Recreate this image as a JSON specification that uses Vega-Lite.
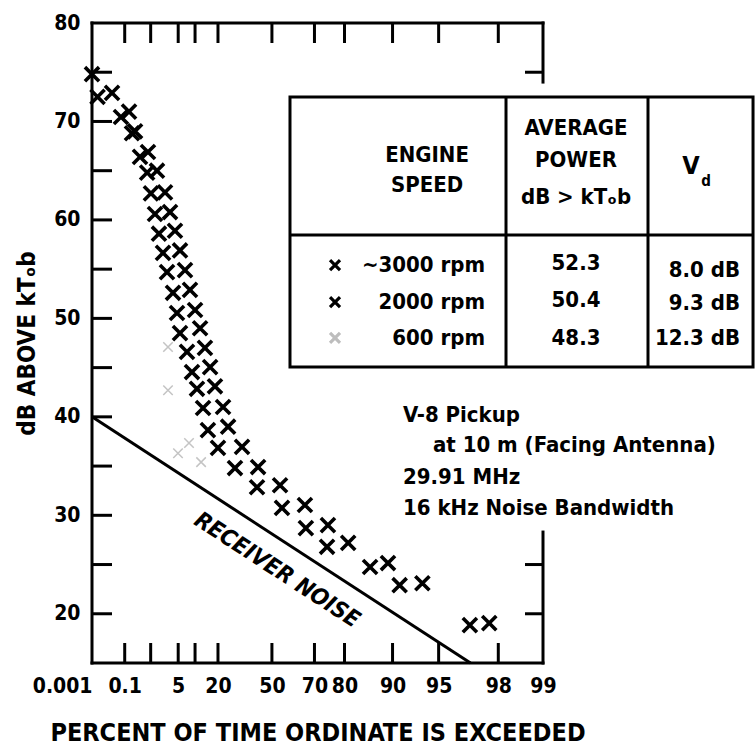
{
  "$schema": "https://vega.github.io/schema/vega-lite/v6.json",
  "width": 451,
  "height": 640,
  "autosize": {"type": "none"},
  "padding": {"left": 92, "top": 23, "right": 213, "bottom": 85},
  "background": "white",
  "config": {
    "view": {"stroke": null},
    "axis": {
      "grid": false,
      "domain": false,
      "ticks": false,
      "labelColor": "black",
      "titleColor": "black",
      "labelFont": "DejaVu Sans Condensed, DejaVu Sans, sans-serif",
      "titleFont": "DejaVu Sans Condensed, DejaVu Sans, sans-serif",
      "labelFontWeight": "bold",
      "titleFontWeight": "bold"
    },
    "text": {"font": "DejaVu Sans Condensed, DejaVu Sans, sans-serif", "fontWeight": "bold", "color": "black"}
  },
  "data": {
    "values": [
      {"kind": "pt", "series": "3000", "pct": 0.001, "db": 74.8},
      {"kind": "pt", "series": "3000", "pct": 0.022, "db": 72.9},
      {"kind": "pt", "series": "3000", "pct": 0.157, "db": 71.0},
      {"kind": "pt", "series": "3000", "pct": 0.28, "db": 69.0},
      {"kind": "pt", "series": "3000", "pct": 0.82, "db": 66.9},
      {"kind": "pt", "series": "3000", "pct": 1.54, "db": 65.0},
      {"kind": "pt", "series": "3000", "pct": 2.52, "db": 62.8},
      {"kind": "pt", "series": "3000", "pct": 3.32, "db": 60.8},
      {"kind": "pt", "series": "3000", "pct": 4.28, "db": 58.9},
      {"kind": "pt", "series": "3000", "pct": 5.43, "db": 56.9},
      {"kind": "pt", "series": "3000", "pct": 6.76, "db": 54.9},
      {"kind": "pt", "series": "3000", "pct": 8.27, "db": 52.9},
      {"kind": "pt", "series": "3000", "pct": 10.0, "db": 50.85},
      {"kind": "pt", "series": "3000", "pct": 11.9, "db": 49.0},
      {"kind": "pt", "series": "3000", "pct": 13.9, "db": 47.0},
      {"kind": "pt", "series": "3000", "pct": 16.2, "db": 45.05},
      {"kind": "pt", "series": "3000", "pct": 18.5, "db": 43.1},
      {"kind": "pt", "series": "3000", "pct": 22.6, "db": 41.0},
      {"kind": "pt", "series": "3000", "pct": 25.3, "db": 39.0},
      {"kind": "pt", "series": "3000", "pct": 33.1, "db": 36.95},
      {"kind": "pt", "series": "3000", "pct": 42.3, "db": 34.9},
      {"kind": "pt", "series": "3000", "pct": 54.3, "db": 33.05},
      {"kind": "pt", "series": "3000", "pct": 66.1, "db": 31.05},
      {"kind": "pt", "series": "3000", "pct": 74.9, "db": 29.0},
      {"kind": "pt", "series": "3000", "pct": 81.0, "db": 27.2},
      {"kind": "pt", "series": "3000", "pct": 89.3, "db": 25.15},
      {"kind": "pt", "series": "3000", "pct": 93.6, "db": 23.1},
      {"kind": "pt", "series": "3000", "pct": 97.7, "db": 19.05},
      {"kind": "pt", "series": "2000", "pct": 0.0026, "db": 72.5},
      {"kind": "pt", "series": "2000", "pct": 0.066, "db": 70.45},
      {"kind": "pt", "series": "2000", "pct": 0.21, "db": 68.8},
      {"kind": "pt", "series": "2000", "pct": 0.434, "db": 66.4},
      {"kind": "pt", "series": "2000", "pct": 0.77, "db": 64.8},
      {"kind": "pt", "series": "2000", "pct": 1.02, "db": 62.7},
      {"kind": "pt", "series": "2000", "pct": 1.35, "db": 60.6},
      {"kind": "pt", "series": "2000", "pct": 1.75, "db": 58.6},
      {"kind": "pt", "series": "2000", "pct": 2.24, "db": 56.65},
      {"kind": "pt", "series": "2000", "pct": 2.82, "db": 54.7},
      {"kind": "pt", "series": "2000", "pct": 3.88, "db": 52.6},
      {"kind": "pt", "series": "2000", "pct": 4.72, "db": 50.55},
      {"kind": "pt", "series": "2000", "pct": 5.43, "db": 48.5},
      {"kind": "pt", "series": "2000", "pct": 7.34, "db": 46.6},
      {"kind": "pt", "series": "2000", "pct": 8.93, "db": 44.55},
      {"kind": "pt", "series": "2000", "pct": 10.7, "db": 42.85},
      {"kind": "pt", "series": "2000", "pct": 13.1, "db": 40.9},
      {"kind": "pt", "series": "2000", "pct": 15.2, "db": 38.65},
      {"kind": "pt", "series": "2000", "pct": 20.0, "db": 36.85},
      {"kind": "pt", "series": "2000", "pct": 29.1, "db": 34.8},
      {"kind": "pt", "series": "2000", "pct": 41.7, "db": 32.85},
      {"kind": "pt", "series": "2000", "pct": 55.3, "db": 30.75},
      {"kind": "pt", "series": "2000", "pct": 66.5, "db": 28.7},
      {"kind": "pt", "series": "2000", "pct": 74.6, "db": 26.8},
      {"kind": "pt", "series": "2000", "pct": 86.1, "db": 24.75},
      {"kind": "pt", "series": "2000", "pct": 91.0, "db": 22.9},
      {"kind": "pt", "series": "2000", "pct": 96.9, "db": 18.85},
      {"kind": "faint", "series": "600", "pct": 2.98, "db": 47.1},
      {"kind": "faint", "series": "600", "pct": 2.98, "db": 42.7},
      {"kind": "faint", "series": "600", "pct": 4.95, "db": 36.3},
      {"kind": "faint", "series": "600", "pct": 7.96, "db": 37.35},
      {"kind": "faint", "series": "600", "pct": 12.3, "db": 35.4},
      {"kind": "noise", "pct": 0.001, "db": 40},
      {"kind": "noise", "pct": 96.93, "db": 15},
      {"kind": "frame", "pct": 0.001, "pct2": 0.001, "db": 15, "db2": 80},
      {"kind": "frame", "pct": 0.001, "pct2": 99, "db": 15, "db2": 15},
      {"kind": "frame", "pct": 0.001, "pct2": 99, "db": 80, "db2": 80},
      {"kind": "frame", "pct": 99, "pct2": 99, "db": 74.0, "db2": 80},
      {"kind": "frame", "pct": 99, "pct2": 99, "db": 15, "db2": 28.3},
      {"kind": "xtickb", "pct": 0.1, "db": 15},
      {"kind": "xtickb", "pct": 1, "db": 15},
      {"kind": "xtickb", "pct": 5, "db": 15},
      {"kind": "xtickb", "pct": 10, "db": 15},
      {"kind": "xtickb", "pct": 20, "db": 15},
      {"kind": "xtickb", "pct": 50, "db": 15},
      {"kind": "xtickb", "pct": 70, "db": 15},
      {"kind": "xtickb", "pct": 80, "db": 15},
      {"kind": "xtickb", "pct": 90, "db": 15},
      {"kind": "xtickb", "pct": 95, "db": 15},
      {"kind": "xtickb", "pct": 98, "db": 15},
      {"kind": "xtickt", "pct": 0.1, "db": 80},
      {"kind": "xtickt", "pct": 1, "db": 80},
      {"kind": "xtickt", "pct": 5, "db": 80},
      {"kind": "xtickt", "pct": 10, "db": 80},
      {"kind": "xtickt", "pct": 20, "db": 80},
      {"kind": "xtickt", "pct": 50, "db": 80},
      {"kind": "xtickt", "pct": 70, "db": 80},
      {"kind": "xtickt", "pct": 80, "db": 80},
      {"kind": "xtickt", "pct": 90, "db": 80},
      {"kind": "xtickt", "pct": 95, "db": 80},
      {"kind": "xtickt", "pct": 98, "db": 80},
      {"kind": "ytick", "pct": 0.001, "db": 20},
      {"kind": "ytick", "pct": 0.001, "db": 25},
      {"kind": "ytick", "pct": 0.001, "db": 30},
      {"kind": "ytick", "pct": 0.001, "db": 35},
      {"kind": "ytick", "pct": 0.001, "db": 40},
      {"kind": "ytick", "pct": 0.001, "db": 45},
      {"kind": "ytick", "pct": 0.001, "db": 50},
      {"kind": "ytick", "pct": 0.001, "db": 55},
      {"kind": "ytick", "pct": 0.001, "db": 60},
      {"kind": "ytick", "pct": 0.001, "db": 65},
      {"kind": "ytick", "pct": 0.001, "db": 70},
      {"kind": "ytick", "pct": 0.001, "db": 75},
      {"kind": "rtick", "pct": 99, "db": 75},
      {"kind": "rtick", "pct": 99, "db": 25},
      {"kind": "rtick", "pct": 99, "db": 20},
      {"kind": "box", "pct": 59.29, "pct2": 99.9622, "db": 72.48, "db2": 45.06},
      {"kind": "tline", "pct": 59.29, "pct2": 99.9622, "db": 58.47, "db2": 58.47},
      {"kind": "tline", "pct": 98.225, "pct2": 98.225, "db": 72.48, "db2": 45.06},
      {"kind": "tline", "pct": 99.8052, "pct2": 99.8052, "db": 72.48, "db2": 45.06},
      {"kind": "legsym", "series": "3000", "pct": 77.2, "db": 55.42},
      {"kind": "legsym", "series": "2000", "pct": 77.2, "db": 51.66},
      {"kind": "legsym", "series": "600", "pct": 77.2, "db": 48.01},
      {"kind": "ctext", "text": "ENGINE", "pct": 94.04, "db": 66.59},
      {"kind": "ctext", "text": "SPEED", "pct": 94.04, "db": 63.55},
      {"kind": "ctext", "text": "AVERAGE", "pct": 99.4016, "db": 69.34},
      {"kind": "ctext", "text": "POWER", "pct": 99.4016, "db": 66.09},
      {"kind": "ctext", "text": "dB > kTₒb", "pct": 99.4016, "db": 62.33},
      {"kind": "ctext", "text": "52.3", "pct": 99.4016, "db": 55.62},
      {"kind": "ctext", "text": "50.4", "pct": 99.4016, "db": 51.87},
      {"kind": "ctext", "text": "48.3", "pct": 99.4016, "db": 48.01},
      {"kind": "bigtext", "text": "V", "pct": 99.90046, "db": 65.48},
      {"kind": "subtext", "text": "d", "pct": 99.92121, "db": 64.0},
      {"kind": "rtext", "text": "~3000 rpm", "pct": 97.545, "db": 55.42},
      {"kind": "rtext", "text": "2000 rpm", "pct": 97.545, "db": 51.66},
      {"kind": "rtext", "text": "600 rpm", "pct": 97.545, "db": 48.01},
      {"kind": "rtext", "text": "8.0 dB", "pct": 99.95368, "db": 54.91},
      {"kind": "rtext", "text": "9.3 dB", "pct": 99.95368, "db": 51.56},
      {"kind": "rtext", "text": "12.3 dB", "pct": 99.95368, "db": 48.01},
      {"kind": "ltext", "text": "V-8 Pickup", "pct": 91.44, "db": 40.19},
      {"kind": "ltext", "text": "at 10 m (Facing Antenna)", "pct": 94.55, "db": 37.14},
      {"kind": "ltext", "text": "29.91 MHz", "pct": 91.44, "db": 33.89},
      {"kind": "ltext", "text": "16 kHz Noise Bandwidth", "pct": 91.44, "db": 30.74},
      {"kind": "noiselabel", "text": "RECEIVER NOISE", "pct": 52.7, "db": 24.44}
    ]
  },
  "transform": [
    {"calculate": "isValid(datum.pct) ? -log(datum.pct / 100) : null", "as": "q"},
    {"calculate": "isValid(datum.pct2) ? -log(datum.pct2 / 100) : null", "as": "q2"}
  ],
  "encoding": {
    "x": {"field": "q", "type": "quantitative", "scale": {"type": "log", "domain": [0.01005033585, 11.51292546], "reverse": true, "nice": false},
      "axis": {"orient": "bottom", "title": "PERCENT OF TIME ORDINATE IS EXCEEDED", "titleFontSize": 25, "titlePadding": 24,
        "domain": false, "ticks": false,
        "values": [11.51292546, 6.907755279, 2.995732274, 1.609437912, 0.6931471806, 0.3566749439, 0.2231435513, 0.1053605157, 0.05129329439, 0.02020270731, 0.01005033585],
        "labelPadding": 12, "labelFontSize": 21, "labelOverlap": false, "labelFlush": false, "labelBound": false,
        "labelAlign": {"condition": {"test": "datum.value > 11", "value": "right"}, "value": "center"},
        "labelExpr": "format(100*exp(-datum.value), '.2~r')"}},
    "y": {"field": "db", "type": "quantitative", "scale": {"domain": [15, 80], "nice": false, "zero": false},
      "axis": {"orient": "left", "title": "dB ABOVE kTₒb", "titleFontSize": 24, "titlePadding": 14,
        "domain": false, "ticks": false,
        "values": [20, 30, 40, 50, 60, 70, 80],
        "labelPadding": 12, "labelFontSize": 21, "labelOverlap": false, "labelFlush": false, "labelBound": false}}
  },
  "layer": [
    {
      "transform": [{"filter": "datum.kind === 'box'"}],
      "mark": {"type": "rect", "fill": "white", "stroke": "black", "strokeWidth": 3},
      "encoding": {"x2": {"field": "q2"}, "y2": {"field": "db2"}}
    },
    {
      "transform": [{"filter": "datum.kind === 'tline'"}],
      "mark": {"type": "rule", "color": "black", "strokeWidth": 3},
      "encoding": {"x2": {"field": "q2"}, "y2": {"field": "db2"}}
    },
    {
      "transform": [{"filter": "datum.kind === 'noise'"}],
      "mark": {"type": "line", "color": "black", "strokeWidth": 3},
      "encoding": {}
    },
    {
      "transform": [{"filter": "datum.kind === 'pt'"}],
      "mark": {"type": "point", "shape": "M-1,-1L1,1M-1,1L1,-1", "filled": false, "color": "black", "strokeWidth": 3.6, "size": 200, "opacity": 1},
      "encoding": {"detail": {"field": "series"}}
    },
    {
      "transform": [{"filter": "datum.kind === 'faint'"}],
      "mark": {"type": "point", "shape": "M-1,-1L1,1M-1,1L1,-1", "filled": false, "color": "#c4c4c4", "strokeWidth": 1.5, "size": 90, "opacity": 1},
      "encoding": {}
    },
    {
      "transform": [{"filter": "datum.kind === 'legsym'"}],
      "mark": {"type": "point", "shape": "M-1,-1L1,1M-1,1L1,-1", "filled": false, "strokeWidth": 3.2, "size": 100, "opacity": 1},
      "encoding": {
        "color": {"field": "series", "type": "nominal", "scale": {"domain": ["3000", "2000", "600"], "range": ["black", "black", "#bdbdbd"]}, "legend": null}
      }
    },
    {
      "transform": [{"filter": "datum.kind === 'ctext'"}],
      "mark": {"type": "text", "align": "center", "baseline": "middle", "fontSize": 22},
      "encoding": {"text": {"field": "text"}}
    },
    {
      "transform": [{"filter": "datum.kind === 'bigtext'"}],
      "mark": {"type": "text", "align": "center", "baseline": "middle", "fontSize": 25},
      "encoding": {"text": {"field": "text"}}
    },
    {
      "transform": [{"filter": "datum.kind === 'subtext'"}],
      "mark": {"type": "text", "align": "center", "baseline": "middle", "fontSize": 15},
      "encoding": {"text": {"field": "text"}}
    },
    {
      "transform": [{"filter": "datum.kind === 'rtext'"}],
      "mark": {"type": "text", "align": "right", "baseline": "middle", "fontSize": 22},
      "encoding": {"text": {"field": "text"}}
    },
    {
      "transform": [{"filter": "datum.kind === 'ltext'"}],
      "mark": {"type": "text", "align": "left", "baseline": "middle", "fontSize": 22},
      "encoding": {"text": {"field": "text"}}
    },
    {
      "transform": [{"filter": "datum.kind === 'noiselabel'"}],
      "mark": {"type": "text", "align": "center", "baseline": "middle", "fontSize": 23, "fontStyle": "italic", "angle": 33},
      "encoding": {"text": {"field": "text"}}
    },
    {
      "transform": [{"filter": "datum.kind === 'frame'"}],
      "mark": {"type": "rule", "color": "black", "strokeWidth": 3, "strokeCap": "square", "opacity": 1},
      "encoding": {"x2": {"field": "q2"}, "y2": {"field": "db2"}}
    },
    {
      "transform": [{"filter": "datum.kind === 'xtickb'"}],
      "mark": {"type": "tick", "orient": "vertical", "color": "black", "size": 20, "thickness": 3, "yOffset": -10, "opacity": 1},
      "encoding": {}
    },
    {
      "transform": [{"filter": "datum.kind === 'xtickt'"}],
      "mark": {"type": "tick", "orient": "vertical", "color": "black", "size": 20, "thickness": 3, "yOffset": 10, "opacity": 1},
      "encoding": {}
    },
    {
      "transform": [{"filter": "datum.kind === 'ytick'"}],
      "mark": {"type": "tick", "orient": "horizontal", "color": "black", "size": 20, "thickness": 3, "xOffset": 10, "opacity": 1},
      "encoding": {}
    },
    {
      "transform": [{"filter": "datum.kind === 'rtick'"}],
      "mark": {"type": "tick", "orient": "horizontal", "color": "black", "size": 18, "thickness": 3, "xOffset": -9, "opacity": 1},
      "encoding": {}
    }
  ]
}
